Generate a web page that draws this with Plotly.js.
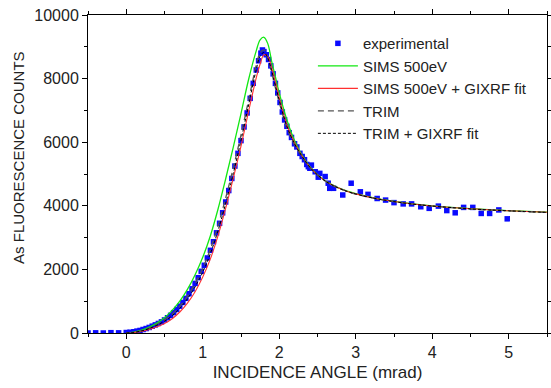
<!DOCTYPE html>
<html>
<head>
<meta charset="utf-8">
<script src="https://cdn.plot.ly/plotly-3.0.1.min.js"></script>
<style>html,body{margin:0;padding:0;background:#fff;}#chart{width:551px;height:388px;}</style>
</head>
<body>
<div id="chart"></div>
<script>
// Experimental data
const expX = [-0.5,-0.4,-0.3,-0.2,-0.1,0.0,0.05,0.10,0.14,0.18,0.22,0.26,0.30,0.34,0.38,0.42,0.46,0.50,0.54,0.58,0.62,0.66,0.70,0.74,0.78,0.82,0.86,0.90,0.94,0.98,1.02,1.06,1.10,1.14,1.18,1.22,1.26,1.30,1.34,1.38,1.42,1.46,1.50,1.54,1.58,1.62,1.66,1.70,1.73,1.76,1.78,1.80,1.83,1.86,1.89,1.92,1.95,1.98,2.01,2.04,2.07,2.10,2.13,2.16,2.20,2.23,2.27,2.30,2.33,2.36,2.38,2.40,2.42,2.47,2.51,2.53,2.60,2.64,2.66,2.71,2.83,2.94,3.06,3.16,3.28,3.39,3.50,3.62,3.73,3.85,3.96,4.08,4.19,4.30,4.41,4.53,4.64,4.75,4.87,4.98];
const expY = [0,5,0,10,5,15,25,40,60,80,110,140,175,215,255,300,350,410,480,555,640,740,845,960,1090,1235,1390,1560,1740,1940,2130,2360,2600,2870,3150,3450,3780,4120,4480,4860,5250,5650,6050,6480,6920,7380,7850,8270,8560,8800,8900,8850,8750,8600,8400,8150,7850,7550,7250,6950,6700,6500,6300,6150,5950,5850,5650,5550,5450,5300,5230,5180,5280,5070,4900,5020,4920,4710,4550,4550,4340,4710,4440,4360,4230,4180,4100,4060,4060,3970,3920,3990,3850,3780,3950,3950,3760,3760,3870,3590];

// Model curves
const curveX = [0.0,0.1,0.2,0.3,0.4,0.5,0.6,0.7,0.8,0.9,1.0,1.1,1.2,1.3,1.4,1.5,1.6,1.7,1.75,1.8,1.85,1.9,1.95,2.0,2.1,2.2,2.3,2.4,2.5,2.6,2.7,2.8,2.9,3.0,3.25,3.5,3.75,4.0,4.5,5.0,5.5];
const simsY = [0,30,90,185,310,480,710,1000,1370,1830,2380,3060,3900,4850,5850,6900,7980,8880,9220,9300,9100,8550,8050,7550,6700,6050,5580,5230,4980,4790,4650,4540,4450,4380,4240,4140,4060,4000,3910,3850,3800];
const simsFitY = [0,15,50,110,195,300,450,660,940,1300,1760,2330,3060,3930,4880,5880,6980,8030,8460,8750,8700,8350,7900,7400,6550,5980,5560,5220,4975,4785,4645,4535,4445,4375,4235,4135,4055,3995,3905,3845,3795];
const trimY = [0,25,75,155,270,405,595,845,1160,1560,2040,2640,3380,4250,5200,6230,7330,8430,8810,8900,8650,8200,7700,7250,6450,5920,5540,5210,4970,4780,4640,4530,4440,4370,4230,4130,4050,3990,3900,3840,3790];
const trimFitY = [0,20,65,140,245,370,545,775,1075,1450,1910,2500,3220,4080,5020,6060,7180,8290,8710,8820,8650,8250,7780,7320,6500,5950,5550,5215,4972,4782,4642,4532,4442,4372,4232,4132,4052,3992,3902,3842,3792];

const names = ['experimental','SIMS 500eV','SIMS 500eV + GIXRF fit','TRIM','TRIM + GIXRF fit'];
const xTickVals = [0,1,2,3,4,5];
const yTickVals = [0,2000,4000,6000,8000,10000];
const yTickText = ['0','2000','4000','6000','8000','10000'];

const traces = [
  {x: expX, y: expY, name: names[0], mode: 'markers', type: 'scatter',
   marker: {symbol: 'square', size: 5.5, color: '#0a0aff'}},
  {x: curveX, y: simsY, name: names[1], mode: 'lines', type: 'scatter',
   line: {color: '#12e812', width: 1.3, shape: 'spline'}},
  {x: curveX, y: simsFitY, name: names[2], mode: 'lines', type: 'scatter',
   line: {color: '#ff3030', width: 1.1, shape: 'spline'}},
  {x: curveX, y: trimY, name: names[3], mode: 'lines', type: 'scatter',
   line: {color: '#555555', width: 1.3, dash: '6px,4px', shape: 'spline'}},
  {x: curveX, y: trimFitY, name: names[4], mode: 'lines', type: 'scatter',
   line: {color: '#000000', width: 1, dash: '3px,2px', shape: 'spline'}}
];

const fam = 'Liberation Sans, Arial, sans-serif';

const layout = {
  width: 551, height: 388,
  margin: {l: 88, r: 4, t: 15, b: 55},
  paper_bgcolor: '#fff', plot_bgcolor: '#fff',
  font: {family: fam, size: 16, color: '#222'},
  showlegend: true,
  legend: {x: 0.49, y: 0.962, xanchor: 'left', yanchor: 'top', bgcolor: 'rgba(0,0,0,0)',
           font: {family: fam, size: 15, color: '#222'}, itemwidth: 40, tracegroupgap: 0},
  xaxis: {range: [-0.5, 5.5], tickvals: xTickVals, ticks: 'outside', ticklen: 5, tickcolor: '#000',
          showline: true, linecolor: '#000', linewidth: 1, mirror: 'allticks', showgrid: false, zeroline: false,
          minor: {dtick: 0.5, tick0: 0, ticks: 'outside', ticklen: 3, tickcolor: '#000', showgrid: false},
          title: {text: 'INCIDENCE ANGLE (mrad)', font: {family: fam, size: 17, color: '#222'}, standoff: 5},
          tickfont: {family: fam, size: 16, color: '#222'}},
  yaxis: {range: [0, 10000], tickvals: yTickVals, ticktext: yTickText, ticks: 'outside', ticklen: 5, tickcolor: '#000',
          showline: true, linecolor: '#000', linewidth: 1, mirror: 'allticks', showgrid: false, zeroline: false,
          minor: {dtick: 1000, tick0: 0, ticks: 'outside', ticklen: 3, tickcolor: '#000', showgrid: false},
          tickfont: {family: fam, size: 16, color: '#222'}},
  annotations: [{text: 'As FLUORESCENCE COUNTS', xref: 'paper', yref: 'paper', x: -0.153, y: 0.553,
                 xanchor: 'center', yanchor: 'middle', textangle: -90, showarrow: false,
                 font: {family: fam, size: 15, color: '#222'}}]
};

Plotly.newPlot('chart', traces, layout, {displayModeBar: false, staticPlot: true});
</script>
</body>
</html>
